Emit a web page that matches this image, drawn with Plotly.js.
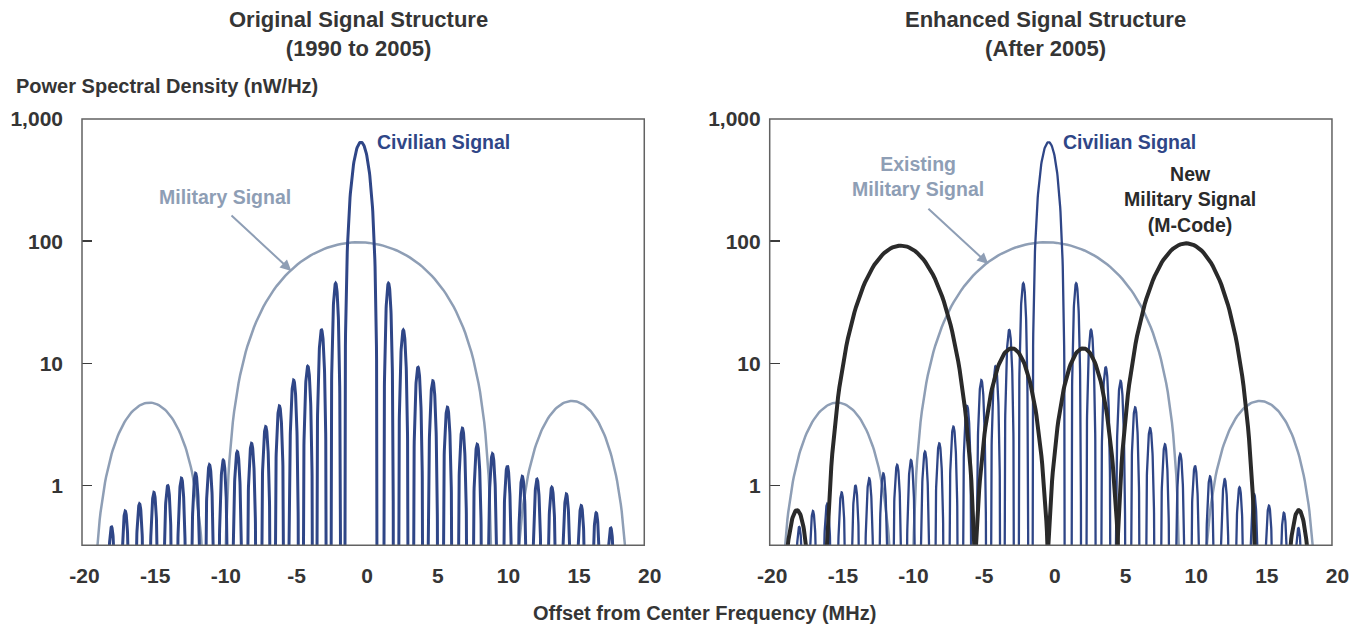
<!DOCTYPE html>
<html>
<head>
<meta charset="utf-8">
<script src="https://cdn.plot.ly/plotly-3.0.1.min.js"></script>
<style>html,body{margin:0;padding:0;background:#fff;}#chart{width:1361px;height:627px;}</style>
</head>
<body>
<div id="chart"></div>
<script>
// ---------- data (MHz offsets, nW/Hz peaks, MHz half-widths) ----------
const xTickVals = [-20, -15, -10, -5, 0, 5, 10, 15, 20];
const xTickText = ['-20', '-15', '-10', '-5', '0', '5', '10', '15', '20'];
const yTickVals = [1, 10, 100, 1000];
const yTickText = ['1', '10', '100', '1,000'];

// Civilian signal (C/A) lobes
const civCenters = [-18.09, -17.12, -16.11, -15.09, -14.11, -13.14, -12.14, -11.16, -10.18, -9.19, -8.18, -7.18, -6.21, -5.20, -4.20, -3.23, -2.23,
                    -0.44,
                    1.51, 2.56, 3.60, 4.65, 5.68, 6.74, 7.79, 8.87, 9.92, 10.98, 12.02, 13.07, 14.10, 15.15, 16.21, 17.24];
const civPeaks = [0.46, 0.62, 0.71, 0.88, 1.0, 1.15, 1.26, 1.48, 1.62, 1.90, 2.22, 3.04, 4.49, 7.3, 9.5, 18.8, 45.3,
                  646,
                  45.3, 18.8, 9.3, 7.2, 4.38, 2.95, 2.18, 1.82, 1.45, 1.19, 1.13, 0.97, 0.855, 0.686, 0.60, 0.45];
const civHalfWidths = [0.36, 0.36, 0.36, 0.36, 0.36, 0.36, 0.36, 0.36, 0.36, 0.36, 0.36, 0.36, 0.36, 0.36, 0.36, 0.36, 0.35,
                       1.155,
                       0.35, 0.36, 0.36, 0.36, 0.36, 0.36, 0.36, 0.36, 0.36, 0.36, 0.36, 0.36, 0.36, 0.36, 0.36, 0.36];

// Existing military signal (P(Y)) lobes
const milCenters = [-15.4, -0.61, 14.5];
const milPeaks = [4.78, 98, 4.93];
const milHalfWidths = [4.14, 9.53, 4.19];

// New military signal (M-Code) lobes
const mcCenters = [-18.25, -10.9, -3.05, 2.0, 9.3, 17.26];
const mcPeaks = [0.63, 92, 13.3, 13.3, 96, 0.63];
const mcHalfWidths = [1.47, 5.6, 2.97, 2.89, 5.21, 1.31];

// ---------- helpers ----------
const W = 1361, H = 627;
const px = v => v / W;
const py = v => 1 - v / H;
const FLOOR = 0.01;

function lobes(centers, peaks, halfWidths, k) {
  const xs = [], ys = [];
  const N = 120;
  for (let i = 0; i < centers.length; i++) {
    for (let j = 0; j <= N; j++) {
      const s = -1 + 2 * j / N;
      const u = Math.sin(Math.PI * s / 2);
      const c = Math.cos(Math.PI * u / 2);
      let y = peaks[i] * Math.pow(Math.max(c, 0), 2 * k);
      if (!(y > FLOOR)) y = FLOOR;
      xs.push(centers[i] + u * halfWidths[i]);
      ys.push(y);
    }
    xs.push(null); ys.push(null);
  }
  return {x: xs, y: ys};
}

const civ = lobes(civCenters, civPeaks, civHalfWidths, 0.75);
const mil = lobes(milCenters, milPeaks, milHalfWidths, 0.75);
const mc = lobes(mcCenters, mcPeaks, mcHalfWidths, 1.25);

const COL_CIV = '#2f4687';
const COL_MIL = '#8e9eb5';
const COL_MC = '#2a2a2a';
const COL_TXT = '#353535';
const FONT = "'Liberation Sans', Arial, sans-serif";

const traces = [
  {x: mil.x, y: mil.y, xaxis: 'x', yaxis: 'y', mode: 'lines', line: {color: COL_MIL, width: 2.5}, hoverinfo: 'skip'},
  {x: civ.x, y: civ.y, xaxis: 'x', yaxis: 'y', mode: 'lines', line: {color: COL_CIV, width: 3}, hoverinfo: 'skip'},
  {x: mil.x, y: mil.y, xaxis: 'x2', yaxis: 'y2', mode: 'lines', line: {color: COL_MIL, width: 2.5}, hoverinfo: 'skip'},
  {x: civ.x, y: civ.y, xaxis: 'x2', yaxis: 'y2', mode: 'lines', line: {color: COL_CIV, width: 2.3}, hoverinfo: 'skip'},
  {x: mc.x, y: mc.y, xaxis: 'x2', yaxis: 'y2', mode: 'lines', line: {color: COL_MC, width: 4}, hoverinfo: 'skip'}
];

const xRange = [-20.18, 20.4];
const yRange = [Math.log10(0.325), 3];
const yDomain = [(H - 545.3) / H, (H - 119) / H];

function xAxis(d0, d1, anchor) {
  return {
    domain: [d0, d1], range: xRange, anchor: anchor,
    tickvals: xTickVals, ticktext: xTickText, ticks: '',
    showline: false, showgrid: false, zeroline: false,
    tickfont: {family: FONT, size: 21, color: COL_TXT, weight: 700},
    ticklabelstandoff: 16, fixedrange: true
  };
}
function yAxis(anchor, standoff) {
  return {
    type: 'log', domain: yDomain, range: yRange, anchor: anchor,
    tickvals: yTickVals, ticktext: yTickText,
    ticks: 'inside', ticklen: 10, tickwidth: 1.5, tickcolor: '#3c3c3c',
    showline: false, showgrid: false, zeroline: false,
    tickfont: {family: FONT, size: 21, color: COL_TXT, weight: 700},
    ticklabelstandoff: standoff, fixedrange: true
  };
}

const frame = (xr, yr) => ({type: 'rect', xref: xr + ' domain', yref: yr + ' domain', x0: 0, x1: 0.9806, y0: 0, y1: 1,
  line: {color: '#626262', width: 1.5}, layer: 'above'});

function txt(x, y, text, color, size, anchor) {
  return {xref: 'paper', yref: 'paper', x: px(x), y: py(y), text: text, showarrow: false,
    xanchor: anchor || 'center', yanchor: 'middle', align: 'center',
    font: {family: FONT, size: size, color: color, weight: 700}};
}
function arrow(tx, ty, fx, fy) {
  return {xref: 'paper', yref: 'paper', x: px(tx), y: py(ty), ax: fx - tx, ay: fy - ty, text: '',
    showarrow: true, arrowhead: 2, arrowsize: 1.1, arrowwidth: 2, arrowcolor: COL_MIL};
}

const layout = {
  width: W, height: H, margin: {l: 0, r: 0, t: 0, b: 0},
  paper_bgcolor: '#ffffff', plot_bgcolor: '#ffffff', showlegend: false,
  xaxis: xAxis(82 / W, 655.4 / W, 'y'),
  yaxis: yAxis('x', 18),
  xaxis2: xAxis(769.7 / W, 1343.1 / W, 'y2'),
  yaxis2: yAxis('x2', 8),
  shapes: [frame('x', 'y'), frame('x2', 'y2')],
  annotations: [
    txt(358, 34, 'Original Signal Structure<br>(1990 to 2005)', COL_TXT, 22),
    txt(1045, 34, 'Enhanced Signal Structure<br>(After 2005)', COL_TXT, 22),
    txt(14, 86, 'Power Spectral Density (nW/Hz)', COL_TXT, 20, 'left'),
    txt(705, 613, 'Offset from Center Frequency (MHz)', COL_TXT, 20),
    txt(375, 142, 'Civilian Signal', COL_CIV, 19.5, 'left'),
    txt(224.5, 197, 'Military Signal', COL_MIL, 19.5),
    arrow(291.3, 271, 230, 214),
    txt(1061, 142, 'Civilian Signal', COL_CIV, 19.5, 'left'),
    txt(918, 176.5, 'Existing<br>Military Signal', COL_MIL, 19.5),
    arrow(988.3, 264, 926.9, 207.3),
    txt(1190, 200, 'New<br>Military Signal<br>(M-Code)', COL_MC, 19.5)
  ]
};

Plotly.newPlot('chart', traces, layout, {staticPlot: true, displayModeBar: false});
</script>
</body>
</html>
